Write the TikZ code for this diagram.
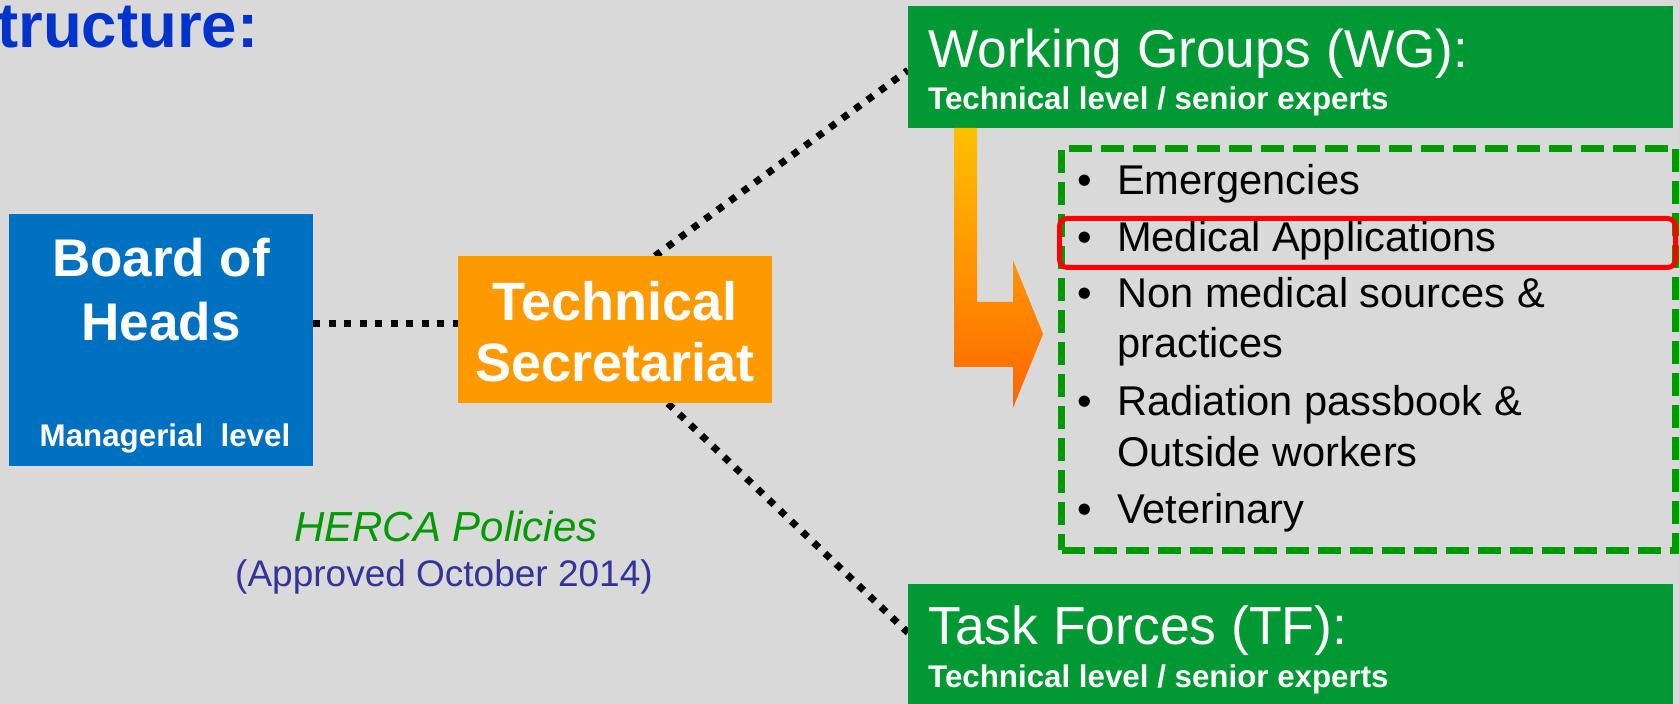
\documentclass[tikz,border=0pt]{standalone}
\usepackage{fontspec}
\setmainfont{Liberation Sans}
\usetikzlibrary{backgrounds,calc}
\definecolor{bgc}{HTML}{D9D9D9}
\definecolor{boardblue}{HTML}{0070C0}
\definecolor{tsorange}{HTML}{FF9900}
\definecolor{boxgreen}{HTML}{009933}
\definecolor{dashgreen}{HTML}{009900}
\definecolor{titleblue}{HTML}{0033CC}
\definecolor{apprblue}{HTML}{333399}
\definecolor{arrtop}{HTML}{FFC000}
\definecolor{arrbot}{HTML}{FF6600}
\newcommand\myfs[1]{\fontsize{#1}{#1}\selectfont}
\begin{document}
\begin{tikzpicture}[x=1pt,y=1pt,
  txt/.style={inner sep=0pt, anchor=base},
  txtw/.style={inner sep=0pt, anchor=base west},
  dotline/.style={line width=7pt, dash pattern=on 7pt off 8.5pt},
  box/.style={inner sep=0pt, anchor=north west, draw=none}]
\useasboundingbox (0,0) rectangle (1679,704);

% title
\node[txtw, text=titleblue, font=\myfs{63.5}\bfseries] (title) at (-3,656) {tructure:};

% Board of Heads
\node[box, fill=boardblue, minimum width=304pt, minimum height=252pt] (boh) at (9,490) {};
\node[txt, text=white, font=\myfs{53}\bfseries] (boh1) at (161,427) {Board of};
\node[txt, text=white, font=\myfs{53}\bfseries] (boh2) at (161,363) {Heads};
\node[txt, text=white, font=\myfs{31.3}\bfseries] (boh3) at (165,257) {Managerial~ level};

% Technical Secretariat
\node[box, fill=tsorange, minimum width=314pt, minimum height=147pt] (ts) at (458,448) {};
\node[txt, text=white, font=\myfs{54}\bfseries] (ts1) at (615,383) {Technical};
\node[txt, text=white, font=\myfs{54}\bfseries] (ts2) at (615,322) {Secretariat};

% HERCA policies
\node[txt, text=dashgreen, font=\myfs{42}\itshape] (herca) at (446,162) {HERCA Policies};
\node[txt, text=apprblue, font=\myfs{37}] (appr) at (444,117) {(Approved October 2014)};

% Working groups
\node[box, fill=boxgreen, minimum width=765pt, minimum height=122pt] (wg) at (908,698) {};
\node[txtw, text=white, font=\myfs{53.2}] (wg1) at (928,636) {Working Groups (WG):};
\node[txtw, text=white, font=\myfs{31.3}\bfseries] (wg2) at (928,594) {Technical level / senior experts};

% Task forces
\node[box, fill=boxgreen, minimum width=765pt, minimum height=125pt] (tf) at (908,120) {};
\node[txtw, text=white, font=\myfs{53.5}] (tf1) at (928,59) {Task Forces (TF):};
\node[txtw, text=white, font=\myfs{31.3}\bfseries] (tf2) at (928,16) {Technical level / senior experts};

% gradient arrow
\shade[top color=arrtop, bottom color=arrbot]
  (954,576) -- (977,576) -- (977,402) -- (1013,402) -- (1013,444) -- (1043,370)
  -- (1013,296) -- (1013,337) -- (954,337) -- cycle;

% dashed list box
\node[box, draw=dashgreen, line width=7pt, dash pattern=on 23pt off 9pt,
  minimum width=614pt, minimum height=402pt] (list) at (1058,559) {};

% red highlight
\node[box, draw=red, line width=5pt, rounded corners=8pt,
  minimum width=616pt, minimum height=49pt] (hl) at (1057,488) {};

% bullet items
\begin{scope}[every node/.style={inner sep=0pt}, font=\myfs{41.6}]
\node[txt] (b1) at (1085,509) {•};
\node[txtw] (i1) at (1117,509) {Emergencies};
\node[txt] (b2) at (1085,452) {•};
\node[txtw] (i2) at (1117,452) {Medical Applications};
\node[txt] (b3) at (1085,396) {•};
\node[txtw] (i3) at (1117,396) {Non medical sources \&};
\node[txtw] (i3b) at (1117,346) {practices};
\node[txt] (b4) at (1085,288) {•};
\node[txtw] (i4) at (1117,288) {Radiation passbook \&};
\node[txtw] (i4b) at (1117,237) {Outside workers};
\node[txt] (b5) at (1085,180) {•};
\node[txtw] (i5) at (1117,180) {Veterinary};
\end{scope}

\begin{scope}[on background layer]
\fill[bgc] (0,0) rectangle (1679,704);
\draw[dotline] (boh.east |- 0,380) -- (ts.west |- 0,380);
\draw[dotline] ([xshift=197pt]ts.north west) -- ([yshift=-3pt]wg.west);
\draw[dotline] ([xshift=210pt]ts.south west) -- ([yshift=14pt]tf.west);
\end{scope}
\end{tikzpicture}
\end{document}
